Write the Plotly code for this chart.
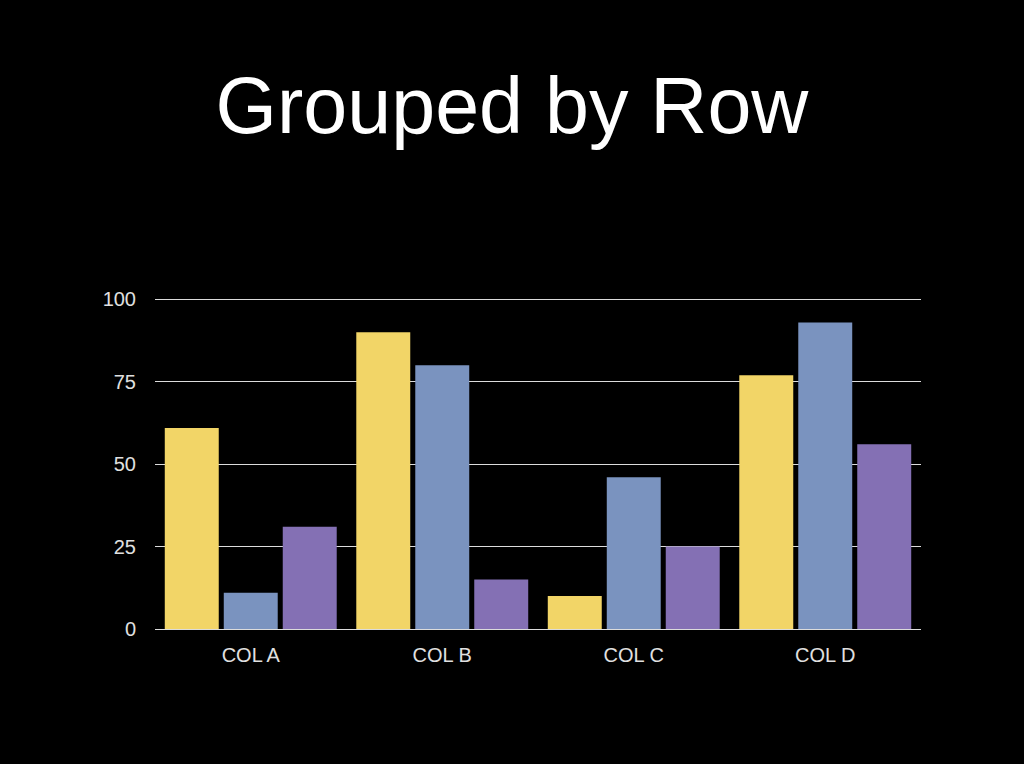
import plotly.graph_objects as go

# Categories and series values
categories = ["COL A", "COL B", "COL C", "COL D"]
row_1 = [61, 90, 10, 77]
row_2 = [11, 80, 46, 93]
row_3 = [31, 15, 25, 56]
series_names = ["Row 1", "Row 2", "Row 3"]
y_ticks = [0, 25, 50, 75, 100]

colors = ["#F2D567", "#7A93BF", "#8470B4"]

fig = go.Figure()
for name, vals, col in zip(series_names, [row_1, row_2, row_3], colors):
    fig.add_trace(go.Bar(x=categories, y=vals, name=name, marker=dict(color=col, line=dict(width=0))))

fig.update_layout(
    width=1024, height=764,
    paper_bgcolor="black", plot_bgcolor="black",
    barmode="group", bargap=0.076, bargroupgap=0.085,
    showlegend=False,
    margin=dict(l=155, r=103, t=296, b=135),
    font=dict(family="Liberation Sans, Helvetica, Arial", color="#e0e0e0", size=20),
    title=dict(text="Grouped by Row", x=0.5, xanchor="center", y=0.862, yanchor="middle",
               yref="container", font=dict(size=79, color="white")),
)
# range a bit above 100 so the top gridline is drawn
fig.update_yaxes(range=[0, 101], tickvals=y_ticks, showgrid=True, gridcolor="#dcdcdc", gridwidth=1,
                 zeroline=False, showline=False, ticks="outside", ticklen=14, tickcolor="black")
fig.update_xaxes(showline=True, linecolor="#dcdcdc", linewidth=1, ticks="outside", ticklen=8,
                 tickcolor="black", showgrid=False)

fig.write_html("out.html", config={"displayModeBar": False},
               post_script="document.body.style.margin='0';document.body.style.background='black';")
